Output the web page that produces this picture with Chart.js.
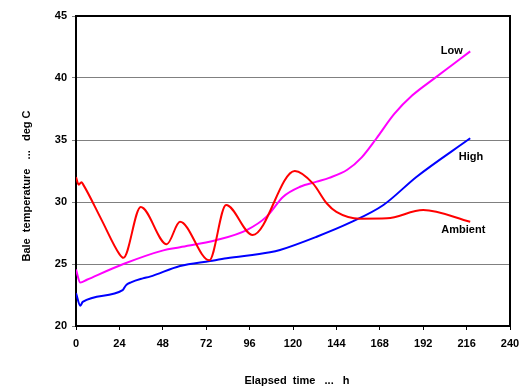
<!DOCTYPE html>
<html>
<head>
<meta charset="utf-8">
<script src="https://cdn.jsdelivr.net/npm/chart.js@4/dist/chart.umd.min.js"></script>
<style>
html,body{margin:0;padding:0;background:#fff;}
#wrap{width:524px;height:390px;position:relative;}
</style>
</head>
<body>
<div id="wrap"><canvas id="c" width="524" height="390"></canvas></div>
<script>
// ---- data ----
const ambientHours = [0, 1.5, 3, 4, 14, 24, 26.2, 35.8, 50.2, 57.5, 73.7, 83, 97.7, 121, 131, 138.6, 144, 157, 172, 192, 218];
const ambientTemp  = [32.0, 31.4, 31.6, 31.4, 28.6, 25.8, 25.5, 29.6, 26.6, 28.4, 25.3, 29.76, 27.34, 32.5, 31.5, 29.9, 29.2, 28.65, 28.68, 29.35, 28.4];

const lowHours = [0, 2.4, 6, 26.2, 48.3, 57.5, 77.8, 94.4, 105.4, 114.6, 123.9, 133.1, 140, 150, 158, 166, 176, 186, 198, 208, 218];
const lowTemp  = [24.55, 23.5, 23.73, 25.0, 26.1, 26.35, 26.94, 27.74, 28.82, 30.43, 31.23, 31.64, 31.95, 32.6, 33.6, 35.1, 37.1, 38.6, 39.95, 41.05, 42.15];

const highHours = [0, 2.4, 3.7, 25.8, 27.6, 30.4, 36.9, 40.9, 57.5, 74.1, 83.3, 107.3, 112.8, 133.1, 151.5, 170, 188.4, 218];
const highTemp  = [22.65, 21.64, 21.94, 22.9, 23.28, 23.52, 23.84, 23.98, 24.84, 25.24, 25.46, 25.94, 26.13, 27.2, 28.33, 29.76, 32.04, 35.14];

const xTickValues = [0, 24, 48, 72, 96, 120, 144, 168, 192, 216, 240];
const yTickValues = [20, 25, 30, 35, 40, 45];

const seriesNames = ['Ambient', 'Low', 'High'];
const xTitle = 'Elapsed  time   ...   h';
const yTitle = 'Bale  temperature   ...   deg C';

function pts(xs, ys){ return xs.map((x,i)=>({x:x, y:ys[i]})); }

const FONT = '"Liberation Sans", Arial, sans-serif';

const decorations = {
  id: 'decorations',
  afterDraw(chart, args, opts) {
    const ctx = chart.ctx;
    const a = chart.chartArea;
    const xs = chart.scales.x, ys = chart.scales.y;
    ctx.save();
    // frame on top and right
    ctx.strokeStyle = '#000';
    ctx.lineWidth = 2;
    ctx.beginPath();
    ctx.moveTo(a.left, a.top);
    ctx.lineTo(a.right, a.top);
    ctx.lineTo(a.right, a.bottom);
    ctx.stroke();
    // series labels
    ctx.fillStyle = '#000';
    ctx.font = 'bold 11px ' + FONT;
    ctx.textAlign = 'center';
    ctx.textBaseline = 'middle';
    opts.labels.forEach(l => {
      ctx.fillText(l.text, xs.getPixelForValue(l.x), ys.getPixelForValue(l.y));
    });
    // axis titles
    ctx.fillText(xTitle, (a.left + a.right) / 2 + 4, 381);
    ctx.translate(27, (a.top + a.bottom) / 2 + 15);
    ctx.rotate(-Math.PI / 2);
    ctx.fillText(yTitle, 0, 0);
    ctx.restore();
  }
};

new Chart(document.getElementById('c'), {
  type: 'line',
  data: {
    datasets: [
      { label: seriesNames[0], data: pts(ambientHours, ambientTemp), borderColor: '#FF0000' },
      { label: seriesNames[1], data: pts(lowHours, lowTemp), borderColor: '#FF00FF' },
      { label: seriesNames[2], data: pts(highHours, highTemp), borderColor: '#0000FF' }
    ]
  },
  options: {
    responsive: false,
    animation: false,
    devicePixelRatio: 1,
    layout: { padding: { left: 0, top: 16, right: 14, bottom: 0 } },
    elements: {
      point: { radius: 0 },
      line: { borderWidth: 2, cubicInterpolationMode: 'monotone', fill: false }
    },
    plugins: {
      legend: { display: false },
      tooltip: { enabled: false },
      decorations: {
        labels: [
          { text: 'Low', x: 207.8, y: 42.18 },
          { text: 'High', x: 218.4, y: 33.63 },
          { text: 'Ambient', x: 214.2, y: 27.74 }
        ]
      }
    },
    scales: {
      x: {
        type: 'linear',
        min: 0, max: 240,
        afterBuildTicks: s => { s.ticks = xTickValues.map(v => ({value: v})); },
        afterFit: s => { s.height = 64; s.paddingLeft = 0; s.paddingRight = 0; },
        ticks: { color: '#000', font: { family: FONT, size: 11, weight: 'bold' }, padding: 7, maxRotation: 0, autoSkip: false },
        grid: { display: true, drawOnChartArea: false, drawTicks: true, tickLength: 4, color: '#000', lineWidth: 1 },
        border: { display: true, color: '#000', width: 2 }
      },
      y: {
        type: 'linear',
        min: 20, max: 45,
        afterBuildTicks: s => { s.ticks = yTickValues.map(v => ({value: v})); },
        afterFit: s => { s.width = 76; s.paddingTop = 0; s.paddingBottom = 0; },
        ticks: { color: '#000', font: { family: FONT, size: 11, weight: 'bold' }, padding: 5 },
        grid: { display: true, drawTicks: true, tickLength: 4, color: '#808080', lineWidth: 1 },
        border: { display: true, color: '#000', width: 2 }
      }
    }
  },
  plugins: [decorations]
});
</script>
</body>
</html>
